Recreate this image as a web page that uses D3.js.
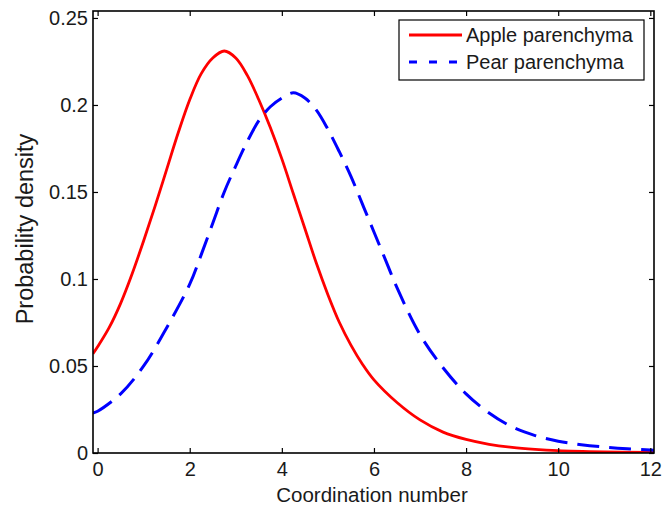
<!DOCTYPE html>
<html>
<head>
<meta charset="utf-8">
<script src="https://cdn.jsdelivr.net/npm/d3@7"></script>
<style>
    body { margin: 0; background: #fff; }
    text { font-family: "Liberation Sans", Arial, sans-serif; fill: #1a1a1a; }
</style>
</head>
<body>
<div id="chart"></div>
<script>
// values
const appleX = [-0.1, 0, 0.25, 0.5, 0.75, 1, 1.25, 1.5, 1.75, 2, 2.25, 2.5, 2.75, 3, 3.25, 3.5, 3.75, 4, 4.25, 4.5, 4.75, 5, 5.25, 5.5, 5.75, 6, 6.5, 7, 7.5, 8, 8.5, 9, 9.5, 10, 11, 12, 12.1];
const appleY = [0.057, 0.061, 0.072, 0.086, 0.103, 0.122, 0.142, 0.163, 0.184, 0.203, 0.218, 0.227, 0.231, 0.227, 0.217, 0.203, 0.187, 0.169, 0.149, 0.129, 0.109, 0.091, 0.075, 0.062, 0.051, 0.042, 0.029, 0.019, 0.012, 0.0078, 0.0050, 0.0032, 0.0021, 0.0014, 0.0007, 0.0003, 0.0003];

const pearX = [-0.1, 0, 0.5, 1, 1.5, 2, 2.25, 2.5, 2.75, 3, 3.25, 3.5, 3.75, 4, 4.25, 4.5, 4.75, 5, 5.25, 5.5, 5.75, 6, 6.25, 6.5, 7, 7.5, 8, 8.5, 9, 9.5, 10, 10.5, 11, 11.5, 12, 12.1];
const pearY = [0.023, 0.024, 0.034, 0.050, 0.072, 0.097, 0.114, 0.132, 0.150, 0.165, 0.179, 0.191, 0.199, 0.204, 0.207, 0.204, 0.197, 0.186, 0.173, 0.159, 0.143, 0.127, 0.111, 0.095, 0.068, 0.049, 0.034, 0.023, 0.015, 0.010, 0.0068, 0.0048, 0.0034, 0.0024, 0.0017, 0.0016];

const xTicks = [0, 2, 4, 6, 8, 10, 12];
const yTicks = [0, 0.05, 0.1, 0.15, 0.2, 0.25];
const yTickLabels = ["0", "0.05", "0.1", "0.15", "0.2", "0.25"];
const seriesNames = ["Apple parenchyma", "Pear parenchyma"];

class DensityChart {
    constructor(box) {
        this.box = box;
        this.#createScales();
        this.#createSVG();
        this.#drawCurves();
        this.#drawAxes();
        this.#drawLabels();
        this.#drawLegend();
    }
    #createScales() {
        this.x = d3.scaleLinear().domain([-0.1, 12.08]).range([this.box.left, this.box.right]);
        this.y = d3.scaleLinear().domain([0, 0.254]).range([this.box.bottom, this.box.top]);
    }
    #createSVG() {
        this.svg = d3.select('#chart').append("svg")
            .attr("width", 669)
            .attr("height", 506);
        this.svg.append("clipPath").attr("id", "plotclip")
            .append("rect")
            .attr("x", this.box.left)
            .attr("y", this.box.top)
            .attr("width", this.box.right - this.box.left)
            .attr("height", this.box.bottom - this.box.top);
    }
    #drawCurves() {
        const line = d3.line()
            .x(d => this.x(d[0]))
            .y(d => this.y(d[1]))
            .curve(d3.curveCatmullRom.alpha(0.5));
        const g = this.svg.append("g").attr("clip-path", "url(#plotclip)");
        g.append("path")
            .datum(d3.zip(appleX, appleY))
            .attr("d", line)
            .attr("fill", "none")
            .attr("stroke", "#ff0000")
            .attr("stroke-width", 2.8);
        g.append("path")
            .datum(d3.zip(pearX, pearY))
            .attr("d", line)
            .attr("fill", "none")
            .attr("stroke", "#0000ff")
            .attr("stroke-width", 3)
            .attr("stroke-dasharray", "22,10");
    }
    #drawAxes() {
        const b = this.box;
        const fontSize = "20px";
        let ax = this.svg.append("g")
            .attr("transform", "translate(0," + b.bottom + ")")
            .call(d3.axisBottom(this.x).tickValues(xTicks).tickSize(-5).tickPadding(9));
        ax.selectAll("text").style("font-size", fontSize);
        this.svg.append("g")
            .attr("transform", "translate(0," + b.top + ")")
            .call(d3.axisTop(this.x).tickValues(xTicks).tickSize(-5).tickFormat(""));
        let ay = this.svg.append("g")
            .attr("transform", "translate(" + b.left + ",0)")
            .call(d3.axisLeft(this.y).tickValues(yTicks).tickSize(-5).tickPadding(5)
                .tickFormat((d, i) => yTickLabels[i]));
        ay.selectAll("text").style("font-size", fontSize);
        this.svg.append("g")
            .attr("transform", "translate(" + b.right + ",0)")
            .call(d3.axisRight(this.y).tickValues(yTicks).tickSize(-5).tickFormat(""));
        this.svg.selectAll(".domain").remove();
        this.svg.selectAll(".tick line").attr("stroke", "#000").attr("stroke-width", 1.2);
        this.svg.selectAll(".tick text").attr("fill", "#1a1a1a");
        this.svg.append("rect")
            .attr("x", b.left).attr("y", b.top)
            .attr("width", b.right - b.left).attr("height", b.bottom - b.top)
            .attr("fill", "none").attr("stroke", "#000").attr("stroke-width", 1.6);
    }
    #drawLabels() {
        this.svg.append("text")
            .attr("x", 372)
            .attr("y", 502)
            .attr("text-anchor", "middle")
            .style("font-size", "20.5px")
            .text("Coordination number");
        this.svg.append("text")
            .attr("transform", "translate(33,229) rotate(-90)")
            .attr("text-anchor", "middle")
            .style("font-size", "23.5px")
            .text("Probability density");
    }
    #drawLegend() {
        const lg = this.svg.append("g");
        lg.append("rect")
            .attr("x", 399).attr("y", 20).attr("width", 245).attr("height", 60)
            .attr("fill", "#fff").attr("stroke", "#000").attr("stroke-width", 1.2);
        const styles = [
            { color: "#ff0000", dash: null },
            { color: "#0000ff", dash: "8,12" }
        ];
        seriesNames.forEach((name, i) => {
            const yy = 35 + i * 27;
            lg.append("line")
                .attr("x1", 409).attr("x2", 462).attr("y1", yy).attr("y2", yy)
                .attr("stroke", styles[i].color).attr("stroke-width", 2.8)
                .attr("stroke-dasharray", styles[i].dash);
            lg.append("text")
                .attr("x", 466).attr("y", yy + 7)
                .style("font-size", "20px")
                .text(name);
        });
    }
}

new DensityChart({ left: 93, right: 654, top: 11, bottom: 453 });
</script>
</body>
</html>
